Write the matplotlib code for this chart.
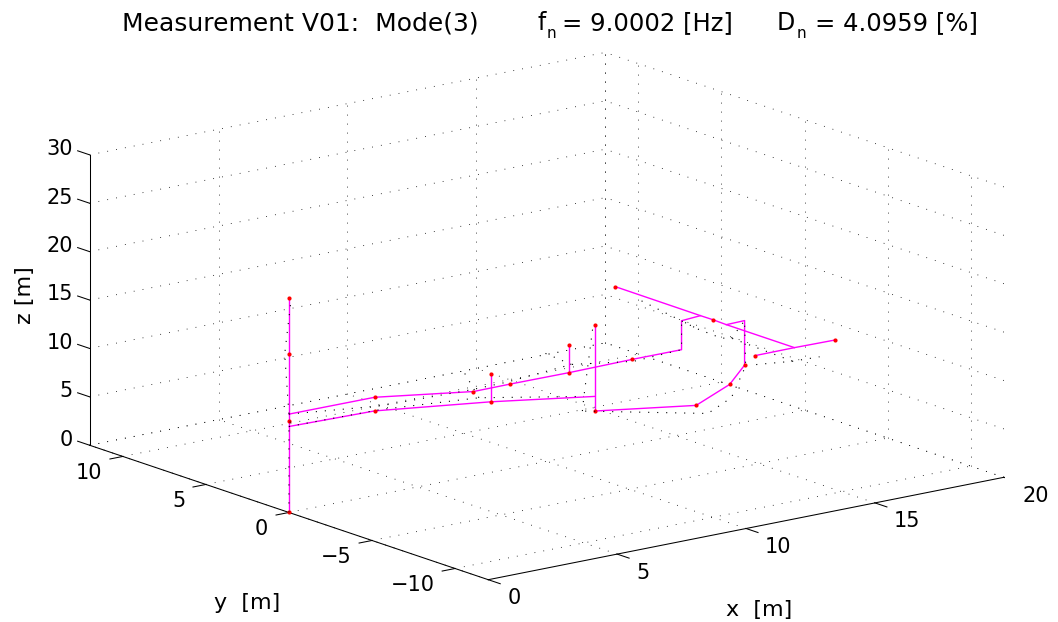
import matplotlib
matplotlib.use('Agg')
import numpy as np
import matplotlib.pyplot as plt
from mpl_toolkits.mplot3d import proj3d

plt.rcParams['font.family'] = ['DejaVu Sans']

# measured structure: node coordinates [m]
node_x = [0, 0, 0, 0, 0, 0, 3.31, 6.14, 7.56, 9.85, 9.85, 12.35, 14.25, 14.25, 15.08, 15.1,
          15.09, 15.06, 15.06, 15.8, 15.8, 14.42, 12.53, 9.64, 9.64, 9.64, 6.72, 6.72, 3.22, 13.5, 16.62]
node_y = [0, 0, 0, 0, 0, 0, -0.02, -1.58, -1.56, -1.59, -1.59, -1.51, -1.52, -1.52, -1.37, 3.78,
          -2.14, -2.96, -7.06, -2.91, -2.91, -4.15, -5.07, -3.44, -3.44, -3.44, -1.73, -1.73, -0.16, -7.08, -7.11]
node_z = [0, 8.88, 9.4, 10.16, 16.36, 22.2, 10.16, 10.16, 10.16, 10.16, 13.01, 10.16, 10.16, 13.15, 13.15, 13.15,
          13.15, 13.15, 13.15, 13.15, 8.55, 8.0, 7.37, 7.37, 8.88, 16.28, 8.88, 11.7, 8.88, 13.15, 13.15]

# mode shape: displaced positions of the same nodes
mode_x = [0, 0, 0.03, 0, -0.10, 0.06, 2.87, 6.26, 7.64, 10.49, 8.68, 12.23, 14.25, 14.25, 14.05, 14.71,
          13.96, 14.21, 14.03, 15.8, 15.75, 13.51, 12.23, 9.34, 9.38, 9.50, 6.72, 6.55, 3.44, 12.9, 15.01]
mode_y = [0, 0, -0.03, 0, 0.10, -0.05, -1.12, -1.33, -1.27, -0.72, -1.79, -1.76, -1.52, -1.52, -2.78, 1.60,
          -4.36, -4.59, -8.55, -2.91, -3.05, -5.67, -6.24, -3.17, -3.20, -3.56, -1.01, -0.18, -0.13, -8.11, -8.65]

# which nodes are joined, and which carry a sensor dot
paths = [[0, 1, 2, 3, 4, 5], [3, 6, 7, 8, 9, 11, 12, 13, 14], [9, 10], [15, 14, 16, 17, 18],
         [17, 19, 20, 21, 22, 23], [23, 24, 25], [1, 28, 26, 24], [26, 27], [29, 18, 30]]
sensors = [0, 2, 4, 5, 6, 7, 8, 9, 10, 11, 15, 16, 20, 21, 22, 23, 25, 26, 27, 28, 29, 30]

xticks = [0, 5, 10, 15, 20]
yticks = [-10, -5, 0, 5, 10]
zticks = [0, 5, 10, 15, 20, 25, 30]
xlim = (0, 20)
ylim = (-12, 12)
zlim = (0, 30)

node_x = np.array(node_x)
node_y = np.array(node_y)
node_z = np.array(node_z)
mode_x = np.array(mode_x)
mode_y = np.array(mode_y)

fig = plt.figure(figsize=(10.58, 6.22), dpi=100)
ax = fig.add_axes([63.0 / 1058, -177.8 / 622, 942 / 1058, 942 / 622], projection='3d')
ax.set_proj_type('ortho')
ax.computed_zorder = False
ax.view_init(elev=15, azim=-127.5)
ax.set_box_aspect((650, 655, 300.7))
ax.set_xlim(xlim)
ax.set_ylim(ylim)
ax.set_zlim(zlim)
ax.set_xticks([])
ax.set_yticks([])
ax.set_zticks([])
ax.set_axis_off()
ax.apply_aspect()


def label3d(x, y, z, s, **kw):
    # tick labels are placed through the 3d projection, but live on the figure
    xp, yp, _ = proj3d.proj_transform(x, y, z, ax.get_proj())
    px = ax.transData.transform((xp, yp))
    fig.text(px[0] / fig.bbox.width, px[1] / fig.bbox.height, s, fontsize=15, **kw)


dots = dict(color='k', lw=0.6, linestyle=(0, (1, 9.8)))
mode_dots = dict(color='k', lw=0.8, linestyle=(0, (1, 7.1)))
solid = dict(color='k', lw=0.75)

# grid on the floor and the two back walls
for xt in xticks:
    ax.plot([xt, xt], ylim, [0, 0], **dots)
    ax.plot([xt, xt], [ylim[1], ylim[1]], zlim, **dots)
for yt in yticks + [ylim[1]]:
    ax.plot(xlim, [yt, yt], [0, 0], **dots)
    ax.plot([xlim[1], xlim[1]], [yt, yt], zlim, **dots)
for zt in zticks:
    ax.plot(xlim, [ylim[1], ylim[1]], [zt, zt], **dots)
    ax.plot([xlim[1], xlim[1]], ylim, [zt, zt], **dots)

# axes lines
ax.plot(xlim, [ylim[0], ylim[0]], [0, 0], **solid)
ax.plot([0, 0], ylim, [0, 0], **solid)
ax.plot([0, 0], [ylim[1], ylim[1]], zlim, **solid)

# ticks and their labels
for xt in xticks:
    ax.plot([xt, xt], [ylim[0], ylim[0] - 0.72], [0, 0], **solid)
    label3d(xt, ylim[0] - 1.15, -1.25, str(xt), ha='left', va='center')
for yt in yticks:
    ax.plot([0, -0.5], [yt, yt], [0, 0], **solid)
    label3d(-0.8, yt, -1.25, str(yt).replace('-', '\u2212'), ha='right', va='center')
for zt in zticks:
    ax.plot([0, 0], [ylim[1], ylim[1] + 0.72], [zt, zt], **solid)
    label3d(0, ylim[1] + 1, zt, str(zt), ha='right', va='center')

# structure, then the mode shape over it
for p in paths:
    ax.plot(node_x[p], node_y[p], node_z[p], color='#ff00ff', lw=1.0)
ax.plot(node_x[sensors], node_y[sensors], node_z[sensors], ls='none', marker='o', ms=3, color='#ff0000', mec='none')
for p in paths:
    ax.plot(mode_x[p], mode_y[p], node_z[p], **mode_dots)

fig.text(759 / 1058, 1 - 610 / 622, 'x  [m]', ha='center', va='center', fontsize=16)
fig.text(247 / 1058, 1 - 603 / 622, 'y  [m]', ha='center', va='center', fontsize=16)
fig.text(25 / 1058, 1 - 295 / 622, 'z [m]', ha='center', va='center', rotation=90, fontsize=16)

# title, put together from pieces because of the low subscripts
title_y = 1 - 30 / 622
sub_y = 1 - 38 / 622
fig.text(122 / 1058, title_y, 'Measurement V01:  Mode(3)', fontsize=18, va='baseline')
fig.text(537 / 1058, title_y, 'f', fontsize=17, va='baseline')
fig.text(547 / 1058, sub_y, 'n', fontsize=11, va='baseline')
fig.text(562 / 1058, title_y, '= 9.0002 [Hz]', fontsize=17.5, va='baseline')
fig.text(777 / 1058, title_y, 'D', fontsize=17, va='baseline')
fig.text(797 / 1058, sub_y, 'n', fontsize=11, va='baseline')
fig.text(815 / 1058, title_y, '= 4.0959 [%]', fontsize=17.5, va='baseline')

fig.savefig('out.png', dpi=100)
